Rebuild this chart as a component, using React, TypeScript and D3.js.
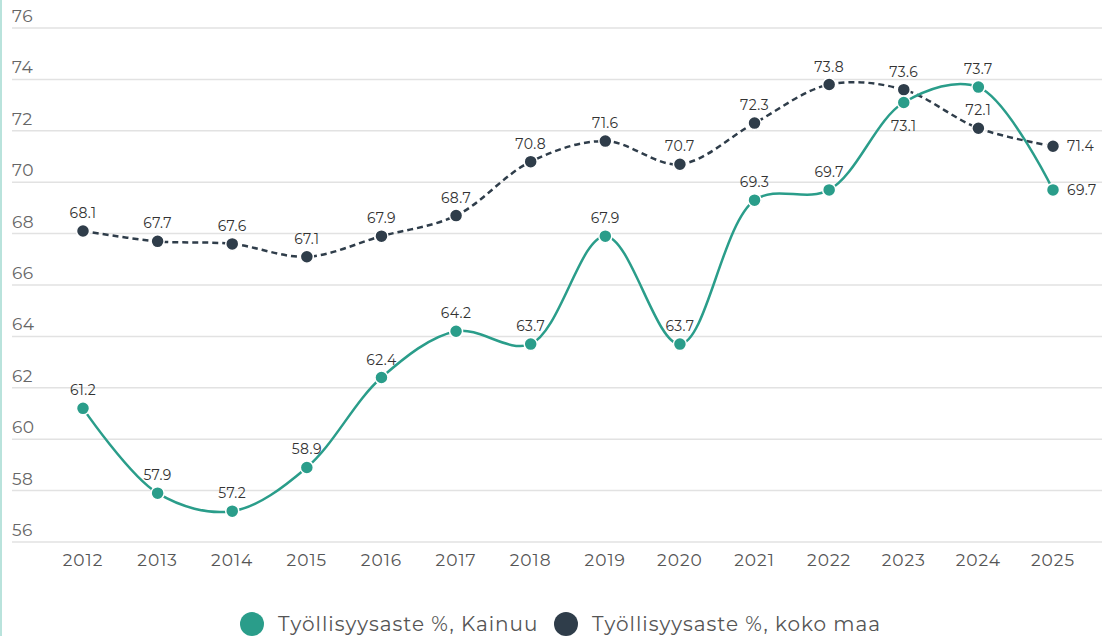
import React from "react";
import * as d3 from "d3";

const years = ["2012","2013","2014","2015","2016","2017","2018","2019","2020","2021","2022","2023","2024","2025"];
const kainuu = [61.2, 57.9, 57.2, 58.9, 62.4, 64.2, 63.7, 67.9, 63.7, 69.3, 69.7, 73.1, 73.7, 69.7];
const kokoMaa = [68.1, 67.7, 67.6, 67.1, 67.9, 68.7, 70.8, 71.6, 70.7, 72.3, 73.8, 73.6, 72.1, 71.4];
const yTicks = [56, 58, 60, 62, 64, 66, 68, 70, 72, 74, 76];
const seriesNames = ["Työllisyysaste %, Kainuu", "Työllisyysaste %, koko maa"];

const TEAL = "#2a9d8a";
const DARK = "#2f3d4a";
const FONT = "Montserrat, 'Open Sans', sans-serif";

export default function App() {
  const W = 1102, H = 636;
  const x = d3.scalePoint<string>().domain(years).range([83, 1053]);
  const y = d3.scaleLinear().domain([56, 76]).range([542, 28]);
  const line = d3.line<number>()
    .x((_, i) => x(years[i])!)
    .y((d) => y(d))
    .curve(d3.curveCatmullRom.alpha(0.5));

  const kLabel = (i: number) => {
    if (i === years.length - 1) return "right";
    if (i === 11) return "below";
    return "above";
  };
  const dLabel = (i: number) => (i === years.length - 1 ? "right" : "above");

  const renderLabels = (vals: number[], place: (i: number) => string) =>
    vals.map((v, i) => {
      const px = x(years[i])!, py = y(v);
      const p = place(i);
      let tx = px, ty = py - 13, anchor = "middle";
      if (p === "below") ty = py + 28;
      if (p === "right") { tx = px + 14; ty = py + 5; anchor = "start"; }
      return (
        <text key={i} x={tx} y={ty} textAnchor={anchor} fontSize={14} letterSpacing={0.4} fill="#333" fontFamily={FONT}>
          {v.toFixed(1)}
        </text>
      );
    });

  return (
    <svg width={W} height={H} style={{ position: "absolute", left: 0, top: 0, background: "#fff" }}>
      <line x1={1} x2={1} y1={0} y2={H} stroke="#b9e3dc" strokeWidth={2} />
      {yTicks.map((t) => (
        <g key={t}>
          <line x1={12} x2={W} y1={y(t)} y2={y(t)} stroke="#e2e2e2" strokeWidth={1.5} />
          <text x={12} y={y(t) - 6} fontSize={17} letterSpacing={0.5} fill="#666" fontFamily={FONT}>{t}</text>
        </g>
      ))}
      {years.map((yr) => (
        <text key={yr} x={x(yr)} y={566} textAnchor="middle" fontSize={17} letterSpacing={1} fill="#555" fontFamily={FONT}>{yr}</text>
      ))}
      <path d={line(kokoMaa)!} fill="none" stroke={DARK} strokeWidth={2.5} strokeDasharray="6,4" />
      <path d={line(kainuu)!} fill="none" stroke={TEAL} strokeWidth={2.5} />
      {kokoMaa.map((v, i) => (
        <circle key={"d" + i} cx={x(years[i])} cy={y(v)} r={6.5} fill={DARK} stroke="#fff" strokeWidth={1.5} />
      ))}
      {kainuu.map((v, i) => (
        <circle key={"k" + i} cx={x(years[i])} cy={y(v)} r={6.5} fill={TEAL} stroke="#fff" strokeWidth={1.5} />
      ))}
      {renderLabels(kokoMaa, dLabel)}
      {renderLabels(kainuu, kLabel)}
      <g fontFamily={FONT} fontSize={20} letterSpacing={1} fill="#555">
        <circle cx={252} cy={624} r={12} fill={TEAL} />
        <text x={278} y={631}>{seriesNames[0]}</text>
        <circle cx={566} cy={624} r={12} fill={DARK} />
        <text x={592} y={631}>{seriesNames[1]}</text>
      </g>
    </svg>
  );
}
